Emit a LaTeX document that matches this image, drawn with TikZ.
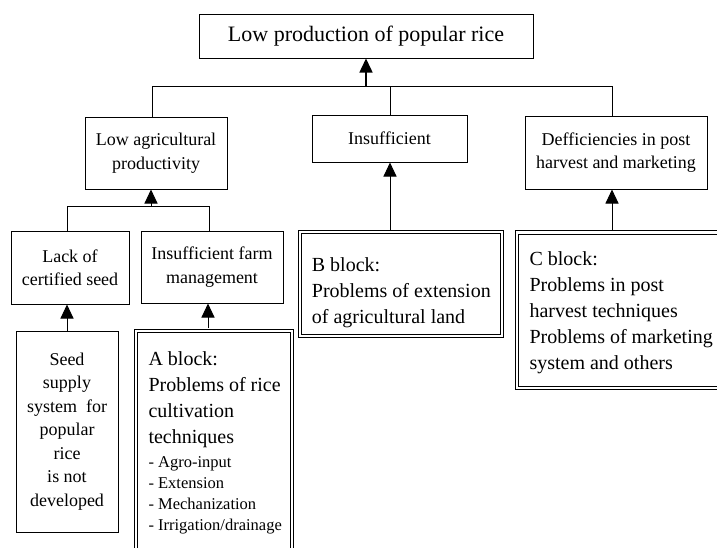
\documentclass[tikz,border=0pt]{standalone}
\usepackage{fontspec}
\setmainfont{Liberation Serif}
\usetikzlibrary{arrows.meta}
\begin{document}
\begin{tikzpicture}[x=1pt,y=-1pt,
  box/.style={draw, line width=1pt, rectangle, inner sep=0pt, align=center,
    font=\fontsize{18}{23.5}\selectfont},
  dblbox/.style={draw, line width=1pt, double, double distance=2.3pt,
    rectangle, inner sep=0pt},
  blocktext/.style={anchor=base west, align=left, inner sep=0pt,
    font=\fontsize{20}{26}\selectfont},
  subtext/.style={anchor=base west, align=left, inner sep=0pt,
    font=\fontsize{16.5}{21}\selectfont},
  link/.style={line width=1pt},
  up/.style={line width=1pt, -{Triangle[length=14pt,width=13pt]}},
]
\useasboundingbox (0,0) rectangle (717,547);
\clip (0,0) rectangle (717,547);
\fill[white] (0,0) rectangle (717,547);

% title
\node[box, minimum width=334pt, minimum height=44pt,
  font=\fontsize{22}{26}\selectfont] (top) at (366,36)
  {Low production of popular rice};

% second level
\node[box, minimum width=142pt, minimum height=72pt] (lowagri) at (156,153)
  {Low agricultural\\productivity};
\node[box, minimum width=155pt, minimum height=47pt] (insuf) at (389.5,138.5)
  {Insufficient};
\node[box, minimum width=182pt, minimum height=73pt] (defic) at (616,152.5)
  {Defficiencies in post\\harvest and marketing};

% third level
\node[box, minimum width=118pt, minimum height=73pt] (lack) at (70,267.5)
  {Lack of\\certified seed};
\node[box, minimum width=142pt, minimum height=72pt] (farm) at (212,267)
  {Insufficient farm\\management};

% seed supply
\node[box, minimum width=102pt, minimum height=201pt] (seed) at (67,431.5)
  {Seed\\supply\\system\ \ for\\popular\\rice\\is not\\developed};

% problem blocks
\node[dblbox, minimum width=156pt, minimum height=239pt] (ablk) at (213.7,450.5) {};
\node[dblbox, minimum width=202.3pt, minimum height=103.4pt] (bblk) at (401.15,284) {};
\node[dblbox, minimum width=222.7pt, minimum height=155.8pt] (cblk) at (628.65,310.4) {};

% block texts, placed by the baseline of their last line
\node[blocktext] (ablk-t) at (148.3,443.3)
  {A block:\\Problems of rice\\cultivation\\techniques};
\node[subtext] (ablk-s) at (148.3,530.8)
  {- Agro-input\\- Extension\\- Mechanization\\- Irrigation/drainage};
\node[blocktext] (bblk-t) at (311.7,323.3)
  {B block:\\Problems of extension\\of agricultural land};
\node[blocktext] (cblk-t) at (529.3,369.3)
  {C block:\\Problems in post\\harvest techniques\\Problems of marketing\\system and others};

% upper bus
\coordinate (j0) at (366,86.7);
\coordinate (jl) at (152,86.7);
\coordinate (jm) at (390,86.7);
\coordinate (jr) at (612,86.7);
\draw[link] (jl |- lowagri.north) -- (jl) -- (jr) -- (jr |- defic.north);
\draw[link] (jm) -- (jm |- insuf.north);
\draw[up, line width=1.5pt] (jm) -- (j0) -- (j0 |- top.south);

% lower bus
\coordinate (k0) at (151,206.7);
\coordinate (kl) at (67,206.7);
\coordinate (kr) at (209,206.7);
\draw[link] (kl |- lack.north) -- (kl) -- (kr) -- (kr |- farm.north);
\draw[up] (k0) -- (k0 |- lowagri.south);

% arrows from the blocks
\coordinate (sx) at (67,0);
\coordinate (ax) at (208,0);
\coordinate (bx) at (390,0);
\coordinate (cx) at (612,0);
\draw[up] (sx |- seed.north) -- (sx |- lack.south);
\draw[up, shorten <=2.2pt] (ax |- ablk.north) -- (ax |- farm.south);
\draw[up, shorten <=2.2pt] (bx |- bblk.north) -- (bx |- insuf.south);
\draw[up, shorten <=2.2pt] (cx |- cblk.north) -- (cx |- defic.south);
\end{tikzpicture}
\end{document}
